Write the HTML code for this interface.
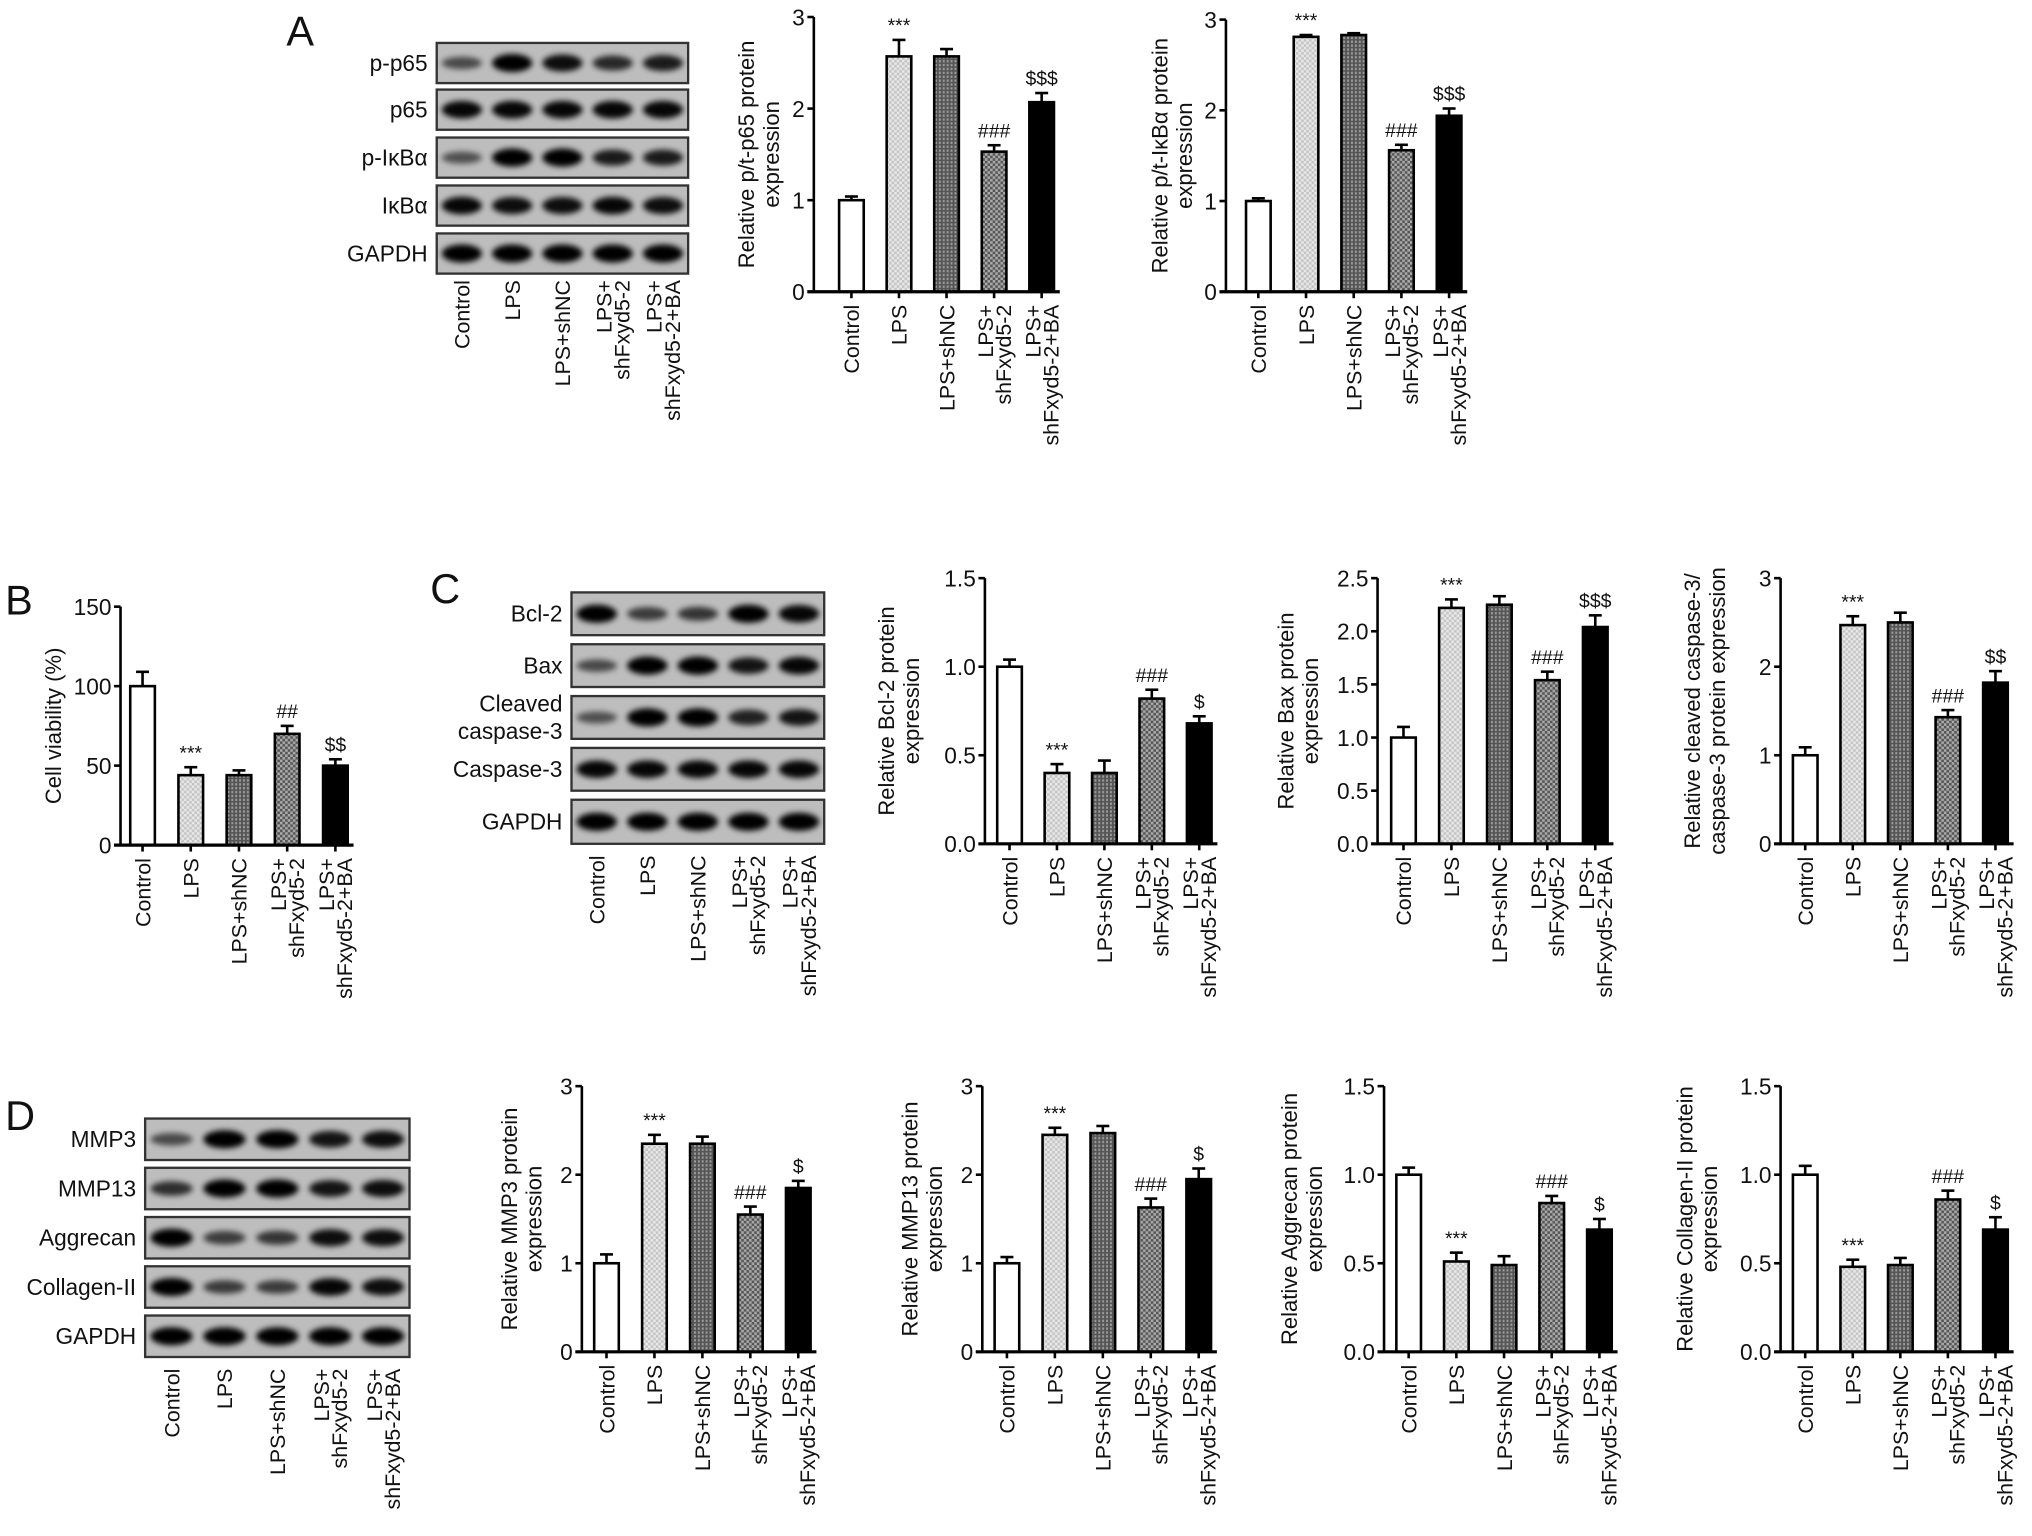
<!DOCTYPE html>
<html><head><meta charset="utf-8">
<style>
html,body{margin:0;padding:0;background:#fff;}
svg{display:block;font-family:"Liberation Sans",Arial,sans-serif;}
</style></head>
<body>
<svg id="fig" width="2032" height="1536" viewBox="0 0 1568 1185" xmlns="http://www.w3.org/2000/svg">
<defs>
<pattern id="pDots" width="4" height="4" patternUnits="userSpaceOnUse"><rect width="4" height="4" fill="#e8e8e8"/><rect width="2" height="2" fill="#c4c4c4"/><rect x="2" y="2" width="2" height="2" fill="#c4c4c4"/></pattern>
<pattern id="pGrid" width="3" height="3" patternUnits="userSpaceOnUse"><rect width="3" height="3" fill="#9a9a9a"/><rect width="1.5" height="3" fill="#555"/><rect width="3" height="1.2" fill="#555"/></pattern>
<pattern id="pCheck" width="4" height="4" patternUnits="userSpaceOnUse"><rect width="4" height="4" fill="#aaa"/><rect width="2" height="2" fill="#555"/><rect x="2" y="2" width="2" height="2" fill="#555"/></pattern>
<filter id="blur" x="-30%" y="-100%" width="160%" height="300%"><feGaussianBlur stdDeviation="2.2"/></filter>
</defs>
<g id="root"></g>
</svg>
<script>
// ---------- data ----------
const categories = ["Control","LPS","LPS+shNC","LPS+|shFxyd5-2","LPS+|shFxyd5-2+BA"];
const a1Values = [1.0, 2.57, 2.57, 1.53, 2.07];
const a1Errors = [0.04, 0.18, 0.08, 0.07, 0.10];
const a1Ticks = [0, 1, 2, 3];
const a2Values = [1.0, 2.81, 2.83, 1.56, 1.94];
const a2Errors = [0.03, 0.02, 0.02, 0.06, 0.08];
const a2Ticks = [0, 1, 2, 3];
const bValues = [100, 44, 44, 70, 50];
const bErrors = [9, 5, 3, 5, 4];
const bTicks = [0, 50, 100, 150];
const c1Values = [1.0, 0.40, 0.40, 0.82, 0.68];
const c1Errors = [0.04, 0.05, 0.07, 0.05, 0.04];
const c1Ticks = [0, 0.5, 1.0, 1.5];
const c2Values = [1.0, 2.22, 2.25, 1.54, 2.04];
const c2Errors = [0.10, 0.08, 0.08, 0.08, 0.11];
const c2Ticks = [0, 0.5, 1.0, 1.5, 2.0, 2.5];
const c3Values = [1.0, 2.47, 2.50, 1.43, 1.82];
const c3Errors = [0.09, 0.10, 0.11, 0.08, 0.13];
const c3Ticks = [0, 1, 2, 3];
const d1Values = [1.0, 2.35, 2.35, 1.55, 1.85];
const d1Errors = [0.10, 0.10, 0.08, 0.09, 0.08];
const d1Ticks = [0, 1, 2, 3];
const d2Values = [1.0, 2.45, 2.47, 1.63, 1.95];
const d2Errors = [0.07, 0.08, 0.08, 0.10, 0.12];
const d2Ticks = [0, 1, 2, 3];
const d3Values = [1.0, 0.51, 0.49, 0.84, 0.69];
const d3Errors = [0.04, 0.05, 0.05, 0.04, 0.06];
const d3Ticks = [0, 0.5, 1.0, 1.5];
const d4Values = [1.0, 0.48, 0.49, 0.86, 0.69];
const d4Errors = [0.05, 0.04, 0.04, 0.05, 0.07];
const d4Ticks = [0, 0.5, 1.0, 1.5];

const NS = "http://www.w3.org/2000/svg";
const root = document.getElementById('root');
function mk(tag, attrs, parent, txt){
  const e = document.createElementNS(NS, tag);
  for (const k in attrs) e.setAttribute(k, attrs[k]);
  if (txt !== undefined) e.textContent = txt;
  (parent || root).appendChild(e);
  return e;
}
const fills = ["#fff","url(#pDots)","url(#pGrid)","url(#pCheck)","#000"];

function laneLabels(g, xs, top, name){
  categories.forEach((c, i) => {
    const parts = c.split('|');
    parts.forEach((p, j) => {
      const x = parts.length === 1 ? xs[i] + 6 : xs[i] - 1 + j * 14;
      const t = mk('text', {x: x, y: top, transform: `rotate(-90 ${x} ${top})`, 'text-anchor': 'end', 'font-size': 16.5, fill: '#111'}, g, p);
      
      
    });
  });
}

function chart(cfg, values, errors, ticks){
  const g = mk('g', {});
  
  
  const maxV = ticks[ticks.length - 1];
  const y = v => cfg.y0 - (v / maxV) * (cfg.y0 - cfg.yTop);
  const x = i => cfg.ax + cfg.first + i * cfg.step;
  const bw = 19;
  values.forEach((v, i) => {
    const cx = x(i);
    const top = y(v), et = y(v + errors[i]);
    const r = mk('rect', {x: cx - bw/2, y: top, width: bw, height: cfg.y0 - top, fill: fills[i], stroke: '#000', 'stroke-width': 2}, g);
    
    
    mk('line', {x1: cx, x2: cx, y1: top, y2: et, stroke: '#000', 'stroke-width': 2}, g);
    mk('line', {x1: cx - 5, x2: cx + 5, y1: et, y2: et, stroke: '#000', 'stroke-width': 2}, g);
    if (cfg.annot[i]) {
      const a = mk('text', {x: cx, y: et - 6, 'text-anchor': 'middle', 'font-size': 15, fill: '#111'}, g, cfg.annot[i]);
      
      
    }
    mk('line', {x1: cx, x2: cx, y1: cfg.y0, y2: cfg.y0 + 5, stroke: '#000', 'stroke-width': 2}, g);
  });
  const ya = mk('line', {x1: cfg.ax, x2: cfg.ax, y1: cfg.yTop, y2: cfg.y0, stroke: '#000', 'stroke-width': 2}, g);
  
  
  const xa = mk('line', {x1: cfg.ax - 5, x2: x(4) + 14, y1: cfg.y0, y2: cfg.y0, stroke: '#000', 'stroke-width': 2.5}, g);
  
  
  ticks.forEach(t => {
    const ty = y(t);
    mk('line', {x1: cfg.ax - 5, x2: cfg.ax, y1: ty, y2: ty, stroke: '#000', 'stroke-width': 2}, g);
    const lbl = cfg.dec ? t.toFixed(1) : String(t);
    const tl = mk('text', {x: cfg.ax - 7, y: ty + 6.5, 'text-anchor': 'end', 'font-size': 17.5, fill: '#111'}, g, lbl);
    
    
  });
  const my = (cfg.yTop + cfg.y0) / 2;
  cfg.title.forEach((l, j) => {
    const tx = cfg.tx + j * 19;
    const tt = mk('text', {x: tx, y: my, transform: `rotate(-90 ${tx} ${my})`, 'text-anchor': 'middle', 'font-size': 17, fill: '#111'}, g, l);
    
    
  });
  laneLabels(g, [0,1,2,3,4].map(x), cfg.y0 + 10, cfg.name);
}

function blot(cfg){
  const g = mk('g', {});
  
  
  const w = cfg.x1 - cfg.x0, lw = w / 5;
  cfg.rows.forEach((row, r) => {
    const [label, y0, y1, dens] = row;
    const box = mk('rect', {x: cfg.x0, y: y0, width: w, height: y1 - y0, fill: '#bdbdbd', stroke: '#333', 'stroke-width': 1.8}, g);
    
    
    const cy = (y0 + y1) / 2;
    dens.forEach((d, i) => {
      mk('ellipse', {cx: cfg.x0 + lw * (i + 0.5), cy: cy, rx: lw * 0.4, ry: 3 + 4 * d, fill: '#000', opacity: 0.3 + 0.7 * d, filter: 'url(#blur)'}, g);
    });
    const lines = label.split('|');
    lines.forEach((l, j) => {
      const ty = cy + 6 + (j - (lines.length - 1) / 2) * 21;
      const t = mk('text', {x: cfg.x0 - 7, y: ty, 'text-anchor': 'end', 'font-size': 17.5, fill: '#111'}, g, l);
      
      
    });
  });
  laneLabels(g, [0,1,2,3,4].map(i => cfg.x0 + lw * (i + 0.5)), cfg.labelTop, cfg.name);
}

function letter(ch, x, y){
  const t = mk('text', {x: x, y: y, 'font-size': 32, fill: '#111'}, root, ch);
  
  
}

letter('A', 221, 35); letter('B', 4, 474); letter('C', 332, 465); letter('D', 4, 872);

blot({name: 'blot-a', x0: 337, x1: 531, labelTop: 216, rows: [
  ['p-p65', 33, 64, [0.45,1,0.9,0.7,0.8]],
  ['p65', 69, 100, [0.95,0.95,0.95,0.95,0.95]],
  ['p-I\u03baB\u03b1', 106, 137, [0.4,1,1,0.8,0.8]],
  ['I\u03baB\u03b1', 143, 174, [0.95,0.9,0.9,0.95,0.9]],
  ['GAPDH', 180, 211, [1,1,1,1,1]]]});
blot({name: 'blot-c', x0: 441, x1: 636, labelTop: 660, rows: [
  ['Bcl-2', 457, 490, [1,0.55,0.6,1,0.95]],
  ['Bax', 497, 530, [0.45,1,1,0.85,0.95]],
  ['Cleaved|caspase-3', 537, 570, [0.4,1,1,0.75,0.85]],
  ['Caspase-3', 577, 610, [0.95,0.95,0.95,0.95,0.95]],
  ['GAPDH', 617, 651, [1,1,1,1,1]]]});
blot({name: 'blot-d', x0: 112, x1: 316, labelTop: 1056, rows: [
  ['MMP3', 863, 895, [0.45,1,1,0.85,0.9]],
  ['MMP13', 901, 933, [0.65,1,1,0.85,0.9]],
  ['Aggrecan', 939, 971, [1,0.55,0.6,0.9,0.9]],
  ['Collagen-II', 977, 1009, [1,0.55,0.55,0.95,0.9]],
  ['GAPDH', 1015, 1047, [1,1,1,1,1]]]});

chart({name:'chart-a1', ax:628, y0:225, yTop:13, first:29, step:36.7, tx:582, title:['Relative p/t-p65 protein','expression'], annot:['','***','','###','$$$']}, a1Values, a1Errors, a1Ticks);
chart({name:'chart-a2', ax:946, y0:225, yTop:15, first:25, step:36.8, tx:901, title:['Relative p/t-I\u03baB\u03b1 protein','expression'], annot:['','***','','###','$$$']}, a2Values, a2Errors, a2Ticks);
chart({name:'chart-b', ax:93, y0:652, yTop:468, first:17, step:37.2, tx:47, title:['Cell viability (%)'], annot:['','***','','##','$$']}, bValues, bErrors, bTicks);
chart({name:'chart-c1', ax:760, y0:651, yTop:446, first:19, step:36.6, tx:690, title:['Relative Bcl-2 protein','expression'], annot:['','***','','###','$'], dec:true}, c1Values, c1Errors, c1Ticks);
chart({name:'chart-c2', ax:1063, y0:651, yTop:446, first:20, step:37, tx:998, title:['Relative Bax protein','expression'], annot:['','***','','###','$$$'], dec:true}, c2Values, c2Errors, c2Ticks);
chart({name:'chart-c3', ax:1374, y0:651, yTop:446, first:19, step:36.7, tx:1312, title:['Relative cleaved caspase-3/','caspase-3 protein expression'], annot:['','***','','###','$$']}, c3Values, c3Errors, c3Ticks);
chart({name:'chart-d1', ax:449, y0:1043, yTop:838, first:19, step:37, tx:399, title:['Relative MMP3 protein','expression'], annot:['','***','','###','$']}, d1Values, d1Errors, d1Ticks);
chart({name:'chart-d2', ax:758, y0:1043, yTop:838, first:19, step:37, tx:708, title:['Relative MMP13 protein','expression'], annot:['','***','','###','$']}, d2Values, d2Errors, d2Ticks);
chart({name:'chart-d3', ax:1068, y0:1043, yTop:838, first:19, step:36.8, tx:1001, title:['Relative Aggrecan protein','expression'], annot:['','***','','###','$'], dec:true}, d3Values, d3Errors, d3Ticks);
chart({name:'chart-d4', ax:1374, y0:1043, yTop:838, first:19, step:36.7, tx:1306, title:['Relative Collagen-II protein','expression'], annot:['','***','','###','$'], dec:true}, d4Values, d4Errors, d4Ticks);
</script>
</body></html>
